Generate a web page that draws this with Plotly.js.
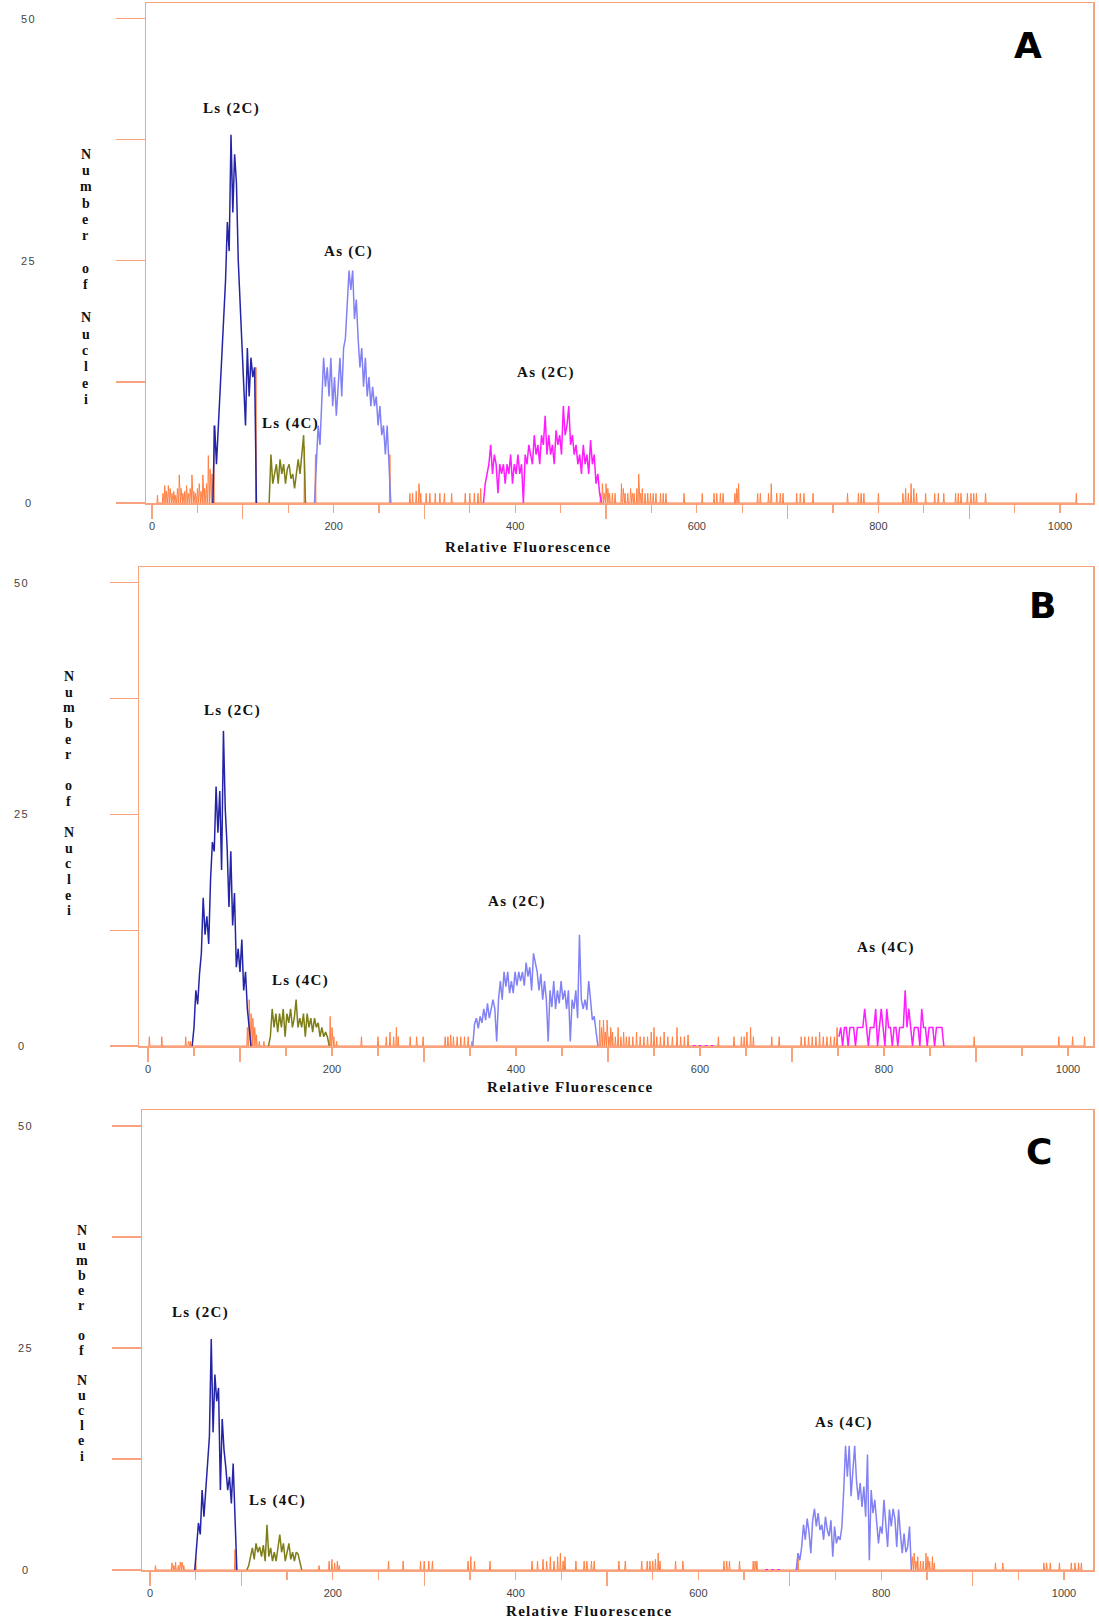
<!DOCTYPE html>
<html>
<head>
<meta charset="utf-8">
<script src="https://cdn.plot.ly/plotly-3.0.1.min.js"></script>
<style>
  html, body { margin: 0; padding: 0; background: #ffffff; }
  #chart { width: 1099px; height: 1622px; }
  svg text.annotation-text { letter-spacing: 1.3px; }
</style>
</head>
<body>
<div id="chart"></div>
<script>
// ---------------- DATA ----------------
// Histogram values are sampled every CHANNEL_STEP units of relative fluorescence.
const CHANNEL_STEP = 2;
const xTickVals = [0, 200, 400, 600, 800, 1000];
const xTickText = ['0', '200', '400', '600', '800', '1000'];
const xLongTickVals = [0, 100, 300, 500, 700, 900];
const yTickVals = [0, 12.5, 25, 37.5, 50];
const yLabelVals = [0, 25, 50];
const yLabelText = ['0', '25', '50'];
const xTitle = 'Relative Fluorescence';
const yTitleLetters = ['N','u','m','b','e','r','','o','f','','N','u','c','l','e','i'];
const panelNames = ['A', 'B', 'C'];

// ---- Panel A ----
const A_ls2c_start = 67;
const A_ls2c = [0,8,4,8,11,15,20,23,29,26,38,30,36,33,25,21,17,12,8,16,11,15,13,14,0];
const A_ls4c_start = 129;
const A_ls4c = [0,5,2,3,4,2,4.5,3,4,2,3.5,4,2.5,3,1.5,3,4.5,3,5,7,0];
const A_asc_start = 179;
const A_asc = [0,5,8,6,10,15,12,14,11,15,10,13,9,12,15,11,16,17,20,24,22,24,19,21,17,14,16,12,15,11,13,10,12,10,11,8,10,7,8,5,8,4,0];
const A_as2c_start = 365;
const A_as2c = [0,2,3,4,6,3,5,4,1,4,3,4,2,4,3,5,2,4,3,5,3,4,0,5,4,6,5,4,7,5,6,4,7,6,9,5,7,5,6,4,7.5,6,7,5,10,7,8,10,6,7,5,6,4,5,3,6,4,5,3,6.5,4,5,2,3,1,0];
const A_other = [[6,0.8],[12,1],[14,1.8],[16,1.2],[18,1.8],[20,1.5],[22,1],[24,1.2],[26,0.8],[28,1.5],[30,2.9],[32,1.5],[34,1],[36,1.2],[38,1.8],[40,1],[42,1.5],[44,2.9],[46,1.2],[48,1],[50,1.5],[52,2],[54,1.2],[56,2.9],[58,1.5],[60,2],[62,4.9],[64,3.5],[66,3],[68,8],
  [114.5,14],[168,5.8],[180,5],[262,5],
  [284,1],[287,1],[291,1.2],[294,2],[296,1],[302,1],[306,1],[312,1],[317,1],[322,1],[330,1],[345,1],[350,1],[355,1],[359,1],[362,1.5],
  [494,1],[496,2],[498,1],[500,2],[502,1.5],[504,1],[507,1],[510,1],[517,2],[519,1.5],[521,1],[524,1],[527,1.5],[529,1],[531,1],[534,1.5],[536,3],[538,1],[540,1.5],[543,1],[546,1],[549,1],[552,1],[555,1],[560,1],[563,1],[566,1],
  [586,1],[606,1],[619,1],[622,1],[626,1],[629,1],[642,1],[644,1.5],[646,2],[667,1],[670,1],[679,1],[682,2],[688,1],[692,1],[695,1],[710,1],[714,1],[718,1],[728,1],[766,1],[778,1],[781,1],[784,1],[800,1],[827,1],[830,1.5],[833,1],[836,2],[839,1.5],[842,1],[852,1],[862,1],[866,1],[872,1],[885,1],[888,1],[891,1],[898,1],[902,1],[905,1],[908,1],[918,1],[1018,1]];

// ---- Panel B ----
const B_ls2c_start = 48;
const B_ls2c = [0,2,6,4.5,7.8,10,16,12,14,11,18,22,21,28,23,27.5,19,34,25.5,21.5,15,21,13,16.5,8.5,10.5,8,11.5,6,8,4,1.5,0];
const B_ls4c_start = 131;
const B_ls4c = [0,1,4,2,3.5,1.5,3.5,2,4,1,3.5,2.5,4,2,3,5,2,3,2,3.5,1,3.5,2,3,1.5,3,2,2.5,1,2,1,1.5,1,0];
const B_as2c_start = 353;
const B_as2c = [0,2.4,3,1.9,3.2,2.5,4,2.8,4.6,3,4,5,4,0.5,5,7,5,8,6.4,8,5.7,7,5.7,8,6.5,8,7,8,6.5,9,7.5,8.5,6,10,9,8,6,7.8,5,7,5,0.5,6,4.2,7,4,6,4.6,7,5,6,4,6,0.5,5,4,6,3,12,5,4,5,3.9,7,5,2.8,3.2,1.4,0];
const B_as4c_start = 751;
const B_as4c = [1,2,0,2,2,0,2,2,2,0,2,2,2,2,4,2,0,2,2,2,4,0,2,4,2,0,4,2,2,0,2,2,0,2,2,2,6,2,4,2,0,2,2,2,0,4,2,2,0,2,2,2,0,2,2,2,2,0];
const B_gap = [592, 617];
const B_other = [[1.5,1],[15,1],[41,1],[44,0.5],[46,0.5],
  [108,2],[110,5],[112,3.5],[114,3],[116,2],[118,1.2],[121,0.5],[126,0.5],
  [198,3.2],[200,2],[202,1],[205,0.5],[232,1],[250,1],[259,1],[263,1.5],[267,1],[270,2],[272,1],[285,1],[292,1],[299,1],[323,1],[326,1],[329,1.2],[332,1],[336,1],[340,1],[344,1],[348,1],[352,0.5],
  [491,2.8],[493,2],[495,2.8],[497,1.5],[499,2.8],[501,1],[503,2],[505,1.5],[508,1],[511,2],[514,1],[517,1.5],[520,1],[523,1],[527,1],[531,1.5],[535,1],[539,1],[543,1],[547,1.5],[550,2],[553,1],[557,1],[561,1.5],[565,1],[570,1],[575,2],[579,1],[583,1],[587,1.2],
  [620,1],[637,1],[645,1],[648,1],[651,1.5],[655,2],[658,1],[678,1],[686,1],[710,1],[714,1],[718,1],[722,1],[726,1],[730,1.5],[734,1],[738,1],[742,1],[746,1],[749,2],
  [898,1],[990,1],[1005,1],[1018,1]];

// ---- Panel C ----
const C_ls2c_start = 49;
const C_ls2c = [0,2.3,5.3,4,9,6,9.4,12,15,26,15.5,22,19,20.5,9,17,13.5,11.5,9,10.5,7.5,12,5.6,0];
const C_ls4c_start = 106;
const C_ls4c = [0,0.5,1.5,2.5,1.2,3,2,2.6,1.5,2.8,1,5.1,1.5,2.5,1,2,1,2.5,4,2,3,1,2,3,1.2,2,1,2,1.8,0.8,0];
const C_as4c_start = 707;
const C_as4c = [0,1.9,1.1,2.6,5.1,3.4,5.8,4.3,1.9,5.6,6.9,4.9,6.4,4.5,5.1,3.4,6,4.5,3.8,5.6,1.5,4.9,3,3.8,3.4,4.9,9,14,10.5,14,8.3,11.3,14,10,7.9,9.8,7.1,9.4,6,13,1.1,9,6.4,7.9,4.9,3,4.9,4.1,7.9,5.6,2.6,6.8,4.9,6.9,5.8,2.6,6.8,4.1,1.9,4.1,2,2.6,4.9,0];
const C_gap = [673, 693];
const C_other = [[6,0.5],[24,0.8],[26,0.5],[28,0.9],[31,0.5],[33,0.9],[35,0.9],[37,0.5],[50,1.5],[93,2.3],
  [185,0.5],[196,1],[199,1.2],[202,0.8],[205,1],[207,0.5],[261,1],[277,1],[296,1],[300,1],[305,1],[309,1],[348,1],[351,1.5],[355,1],[372,1],
  [418,1],[424,1],[430,1.2],[434,1],[438,1.5],[442,1],[446,1.5],[449,1.9],[452,1],[454,1.5],[466,1],[475,1],[478,1],[483,1],[486,1],[513,1],[520,1],[538,1],[544,1],[547,1],[550,1],[553,1.2],[556,1.9],[558,1],[575,1],[583,1],[628,1],[631,1],[634,1],[645,1],[660,1],[662,1],[664,1],[709,1.9],
  [834,1.5],[836,1.9],[838,1],[840,1.5],[843,1],[846,1],[849,1.9],[851,1.5],[853,1],[856,1.5],[858,0.8],[925,0.8],[933,0.8],[978,0.8],[981,0.8],[985,0.8],[995,0.8],[1008,0.8],[1012,0.8],[1016,0.8],[1019,0.8]];

// ---------------- STYLE / LAYOUT ----------------
const W = 1099, H = 1622;
const FRAME = '#F8A27E';
const ORANGE = '#FF8044';
const NAVY = '#2424A6';
const PERI = '#8282F4';
const OLIVE = '#7E7E18';
const MAGENTA = '#FF1CFF';
const TXT = '#444444';

// pixel geometry of each panel (plot frame, position of x=0, pixels per unit)
const geom = [
  {left:146, right:1093, top:3,    bottom:503,  x0px:152, xppu:0.908, yppu:9.688, ytickEnd:117, ylabX:28,
   yTitle:{x:86, top:154.2, bottom:399.4}, xTitle:{x:528, y:547}, letter:{x:1028, y:45.5}},
  {left:139, right:1093, top:567,  bottom:1046, x0px:148, xppu:0.920, yppu:9.268, ytickEnd:111, ylabX:21,
   yTitle:{x:69, top:676.8, bottom:910.6}, xTitle:{x:570, y:1086.5}, letter:{x:1043, y:605.4}},
  {left:142, right:1093, top:1110, bottom:1570, x0px:150, xppu:0.914, yppu:8.88, ytickEnd:113, ylabX:25,
   yTitle:{x:82, top:1230.4, bottom:1456}, xTitle:{x:589, y:1611}, letter:{x:1040, y:1151.7}}
];

const peakLabels = [
  [{t:'Ls (2C)', x:231, y:108.7}, {t:'As (C)', x:348, y:251.5}, {t:'Ls (4C)', x:291, y:423.2}, {t:'As (2C)', x:546.4, y:372.5}],
  [{t:'Ls (2C)', x:232.8, y:710.9}, {t:'Ls (4C)', x:300, y:980}, {t:'As (2C)', x:517.4, y:901.3}, {t:'As (4C)', x:885.8, y:947.9}],
  [{t:'Ls (2C)', x:200.8, y:1312}, {t:'Ls (4C)', x:277.3, y:1500.5}, {t:'As (4C)', x:844.4, y:1422.9}]
];

// ---------------- TRACE BUILDERS ----------------
function peakTrace(start, vals, color, ax) {
  return {type:'scatter', mode:'lines', x: vals.map((v, i) => start + CHANNEL_STEP * i), y: vals,
    xaxis: ax.x, yaxis: ax.y, line:{color: color, width: 1.5}, hoverinfo:'skip'};
}
function spikeTrace(spikes, color, ax) {
  const x = [], y = [];
  spikes.forEach(([sx, h]) => { x.push(sx - 0.6, sx, sx + 0.6); y.push(0, h, 0); });
  return {type:'scatter', mode:'lines', x: x, y: y, xaxis: ax.x, yaxis: ax.y,
    line:{color: color, width: 1}, hoverinfo:'skip'};
}
function gapTrace(seg, ax) {
  return {type:'scatter', mode:'lines', x: seg, y: [0, 0], xaxis: ax.x, yaxis: ax.y,
    line:{color: MAGENTA, width: 2, dash:'dot'}, hoverinfo:'skip'};
}

const axA = {x:'x', y:'y'}, axB = {x:'x2', y:'y2'}, axC = {x:'x3', y:'y3'};

const traces = [
  spikeTrace(A_other, ORANGE, axA),
  peakTrace(A_ls2c_start, A_ls2c, NAVY, axA),
  peakTrace(A_ls4c_start, A_ls4c, OLIVE, axA),
  peakTrace(A_asc_start, A_asc, PERI, axA),
  peakTrace(A_as2c_start, A_as2c, MAGENTA, axA),

  spikeTrace(B_other, ORANGE, axB),
  gapTrace(B_gap, axB),
  peakTrace(B_ls2c_start, B_ls2c, NAVY, axB),
  peakTrace(B_ls4c_start, B_ls4c, OLIVE, axB),
  peakTrace(B_as2c_start, B_as2c, PERI, axB),
  peakTrace(B_as4c_start, B_as4c, MAGENTA, axB),

  spikeTrace(C_other, ORANGE, axC),
  gapTrace(C_gap, axC),
  peakTrace(C_ls2c_start, C_ls2c, NAVY, axC),
  peakTrace(C_ls4c_start, C_ls4c, OLIVE, axC),
  peakTrace(C_as4c_start, C_as4c, PERI, axC),
];

// invisible anchors so the long-tick overlay axes are drawn
['x4','x5','x6'].forEach((xa, i) => {
  traces.push({type:'scatter', mode:'lines', x:[0], y:[0], xaxis: xa, yaxis: ['y','y2','y3'][i],
    line:{width:0, color:'rgba(0,0,0,0)'}, hoverinfo:'skip'});
});

// ---------------- LAYOUT ----------------
const layout = {
  width: W, height: H, margin:{l:0, r:0, t:0, b:0},
  paper_bgcolor:'#ffffff', plot_bgcolor:'#ffffff', showlegend:false,
  annotations: [], font:{family:'Liberation Sans'}
};

const serifBold = (size) => ({family:'Liberation Serif, Times New Roman, serif', size: size, color:'#111111', weight:'bold'});

geom.forEach((g, i) => {
  const n = i === 0 ? '' : String(i + 1);
  const xr = [(g.left - g.x0px) / g.xppu, (g.right - g.x0px) / g.xppu];
  const yr = [0, (g.bottom - g.top) / g.yppu];
  layout['xaxis' + n] = {
    domain:[g.left / W, g.right / W], range: xr, anchor:'y' + n,
    showline:true, linecolor:FRAME, linewidth:1.5, mirror:true,
    ticks:'outside', tickvals:xTickVals, ticktext:xTickText, ticklen:8, tickwidth:1.3, tickcolor:FRAME,
    minor:{tick0:0, dtick:50, ticks:'outside', ticklen:8, tickwidth:1.3, tickcolor:FRAME, showgrid:false},
    showgrid:false, zeroline:false, ticklabelstandoff:4,
    tickfont:{family:'Liberation Sans, Arial, sans-serif', size:11, color:TXT},
    fixedrange:true, automargin:false
  };
  layout['yaxis' + n] = {
    domain:[1 - g.bottom / H, 1 - g.top / H], range: yr, anchor:'x' + n,
    showline:true, linecolor:FRAME, linewidth:1.5, mirror:true,
    ticks:'outside', tickvals:yTickVals, ticklen: g.left - g.ytickEnd, tickwidth:1.3, tickcolor:FRAME,
    showticklabels:false, showgrid:false, zeroline:false, fixedrange:true, automargin:false
  };
  layout['xaxis' + (i + 4)] = {
    overlaying:'x' + n, anchor:'y' + n, range: xr, side:'bottom',
    ticks:'outside', tickvals:xLongTickVals, ticklen:15, tickwidth:1.3, tickcolor:FRAME,
    showticklabels:false, showline:false, showgrid:false, zeroline:false, fixedrange:true, automargin:false
  };

  // y tick labels (0, 25, 50) far to the left, as in the original
  yLabelVals.forEach((v, k) => layout.annotations.push({
    xref:'paper', yref:'y' + n, x: g.ylabX / W, y: v, text: yLabelText[k], showarrow:false,
    xanchor:'center', yanchor:'middle', font:{family:'Liberation Sans, Arial, sans-serif', size:11, color:TXT}
  }));
  // stacked vertical y title, one letter per line
  const stepPx = (g.yTitle.bottom - g.yTitle.top) / (yTitleLetters.length - 1);
  yTitleLetters.forEach((c, k) => {
    if (!c) return;
    layout.annotations.push({
      xref:'paper', yref:'paper', x: g.yTitle.x / W, y: 1 - (g.yTitle.top + k * stepPx) / H,
      text: c, showarrow:false, xanchor:'center', yanchor:'middle', font: serifBold(14)
    });
  });
  // x title
  layout.annotations.push({
    xref:'paper', yref:'paper', x: g.xTitle.x / W, y: 1 - g.xTitle.y / H, text: xTitle,
    showarrow:false, xanchor:'center', yanchor:'middle', font: serifBold(15)
  });
  // panel letter
  layout.annotations.push({
    xref:'paper', yref:'paper', x: g.letter.x / W, y: 1 - g.letter.y / H, text: panelNames[i],
    showarrow:false, xanchor:'center', yanchor:'middle',
    font:{family:'DejaVu Sans, Arial Black, sans-serif', size:36, color:'#000000', weight:'bold'}
  });
  // peak labels
  peakLabels[i].forEach(p => layout.annotations.push({
    xref:'paper', yref:'paper', x: p.x / W, y: 1 - p.y / H, text: p.t, showarrow:false,
    xanchor:'center', yanchor:'middle', font: serifBold(15)
  }));
});

Plotly.newPlot('chart', traces, layout, {staticPlot:true, displayModeBar:false});
</script>
</body>
</html>
